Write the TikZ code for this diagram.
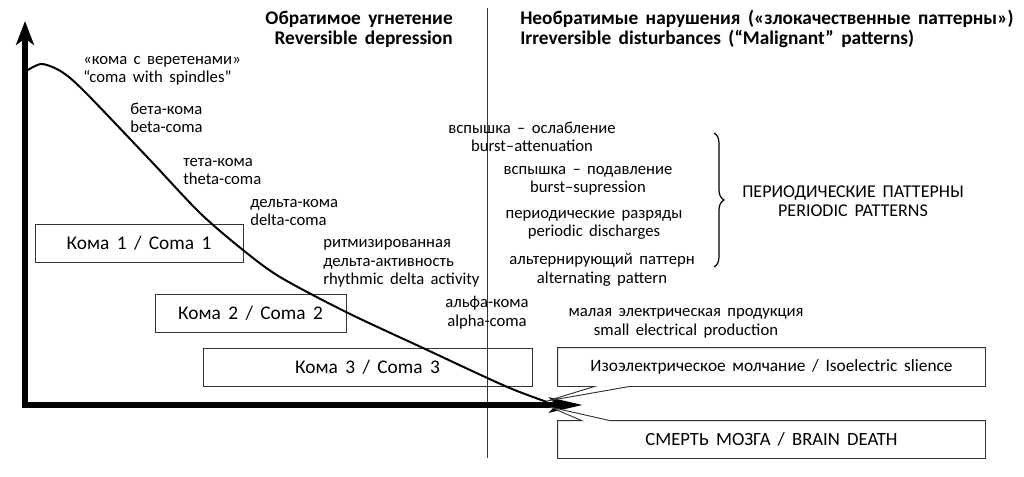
\documentclass[tikz,border=0pt]{standalone}
\usepackage{fontspec}
\setmainfont{Carlito}[WordSpace=1.7]
\usetikzlibrary{arrows.meta,calc,decorations.pathreplacing}

\begin{document}
\begin{tikzpicture}[x=0.75pt,y=-0.75pt,
  lbl/.style={inner sep=0pt,font=\fontsize{12.5}{13.9}\selectfont},
  head/.style={inner sep=0pt,font=\fontsize{14.5}{15}\selectfont\bfseries},
  comabox/.style={draw=black!80,line width=0.7pt,inner sep=0pt,minimum height=28.5pt,font=\fontsize{14.5}{16}\selectfont},
  callout/.style={draw=black!80,fill=white,line width=0.7pt},
  axis/.style={line width=4.5pt,line join=miter,{Stealth[length=25pt,width=11pt,inset=5pt]}-{Stealth[length=18pt,width=13.5pt,inset=5pt]}},
  curve/.style={line width=1.5pt},
  divider/.style={line width=0.6pt,black!80}]
\useasboundingbox (0,0) rectangle (1024,477);

% headers
\node[head,align=right,anchor=base east] (hrev) at (453,45) {Обратимое угнетение\\Reversible depression};
\node[head,align=left,anchor=base west] (hirr) at (520,45) {Необратимые нарушения («злокачественные паттерны»)\\Irreversible disturbances (“Malignant” patterns)};

% divider between the two groups
\coordinate (dtop) at (487,8);
\coordinate (dbot) at (487,458);
\draw[divider] (dtop) -- (dbot);

% coma boxes
\node[comabox,minimum width=156pt] (coma1) at (139,243) {Кома 1 / Coma 1};
\node[comabox,minimum width=143.25pt] (coma2) at (250.5,313) {Кома 2 / Coma 2};
\node[comabox,minimum width=246.75pt] (coma3) at (367.5,367) {Кома 3 / Coma 3};

% axes
\coordinate (O) at (25,405);
\coordinate (xtip) at (583,405);
\coordinate (ytip) at (25,21);
\draw[axis] (xtip) -- (O) -- (ytip);

% EEG curve
\draw[curve] plot[smooth,tension=0.5] coordinates {(28,70) (42,64) (62,72) (85,92) (150,160) (200,213) (243,250) (280,277) (346,312) (423,348) (505,386) (547,402)};

% labels along the curve
\node[lbl,align=left,anchor=base west] (spin) at (83,83) {«кома с веретенами»\\“coma with spindles”};
\node[lbl,align=left,anchor=base west] (beta) at (130,133) {бета-кома\\beta-coma};
\node[lbl,align=left,anchor=base west] (theta) at (183,185) {тета-кома\\theta-coma};
\node[lbl,align=left,anchor=base west] (delta) at (250,226) {дельта-кома\\delta-coma};
\node[lbl,align=left,anchor=base west] (rda) at (323,285) {ритмизированная\\дельта-активность\\rhythmic delta activity};
\node[lbl,align=center,anchor=base] (alpha) at (487,326) {альфа-кома\\alpha-coma};
\node[lbl,align=center,anchor=base] (burst1) at (532,152) {вспышка – ослабление\\burst–attenuation};
\node[lbl,align=center,anchor=base] (burst2) at (588,193) {вспышка – подавление\\burst–supression};
\node[lbl,align=center,anchor=base] (pd) at (594,237) {периодические разряды\\periodic discharges};
\node[lbl,align=center,anchor=base] (alt) at (602,283) {альтернирующий паттерн\\alternating pattern};
\node[lbl,align=center,anchor=base] (small) at (686,335) {малая электрическая продукция\\small electrical production};

% brace over the periodic patterns
\coordinate (bt) at (714,133);
\coordinate (bb) at (714,267);
\draw[line width=0.9pt,decorate,decoration={brace,amplitude=7.5pt}] (bt) -- (bb);
\node[lbl,align=center,anchor=base,font=\fontsize{13.5}{14.3}\selectfont] (pp) at (853,217) {ПЕРИОДИЧЕСКИЕ ПАТТЕРНЫ\\PERIODIC PATTERNS};

% end states
\coordinate (isotip) at (547,401);
\coordinate (deathtip) at (550,407);
\node[comabox,draw=none,minimum width=320.25pt] (iso) at (771.5,367) {};
\node[comabox,draw=none,minimum width=320.25pt,minimum height=27.75pt] (death) at (771.5,439.5) {};
\draw[callout] (iso.south west) -- (iso.north west) -- (iso.north east) -- (iso.south east)
  -- ($(iso.south west)+(72,0)$) -- (isotip) -- ($(iso.south west)+(37,0)$) -- cycle;
\draw[callout] (death.north west) -- ($(death.north west)+(24,0)$) -- (deathtip)
  -- ($(death.north west)+(52,0)$) -- (death.north east) -- (death.south east) -- (death.south west) -- cycle;
\node[comabox,draw=none,font=\fontsize{13}{15}\selectfont] (isotext) at (iso) {Изоэлектрическое молчание / Isoelectric slience};
\node[comabox,draw=none,font=\fontsize{14}{15}\selectfont] (deathtext) at (death) {СМЕРТЬ МОЗГА / BRAIN DEATH};
\end{tikzpicture}
\end{document}
